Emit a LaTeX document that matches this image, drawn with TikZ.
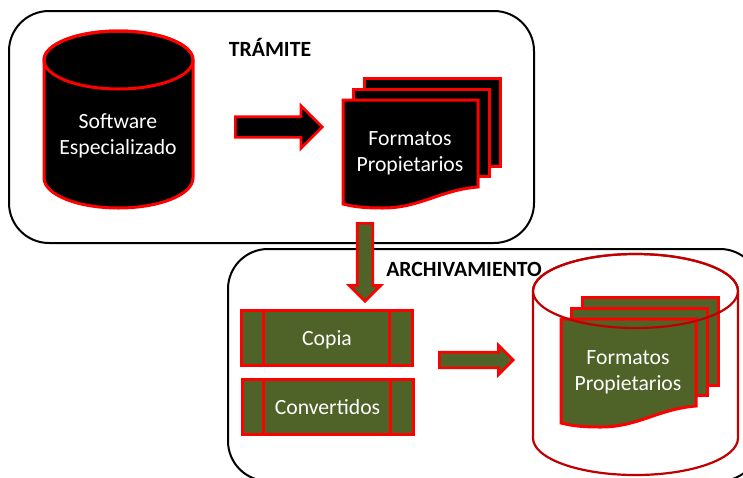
\documentclass[tikz,border=0pt]{standalone}
\usepackage{fontspec}
\setmainfont{Carlito}
\usetikzlibrary{shapes.arrows}
\definecolor{olivo}{HTML}{4F6228}
\definecolor{rojo}{HTML}{FF0000}
\definecolor{rojooscuro}{HTML}{C00000}
\tikzset{
  grupo/.style={draw=black,line width=2pt,rounded corners=40pt,fill=white},
  titulo/.style={font=\fontsize{21.7}{26}\selectfont\bfseries,text=black,inner sep=0pt},
  etiqueta/.style={font=\fontsize{21.7}{26}\selectfont,text=white,align=center,inner sep=0pt},
  hoja/.style={draw=rojo,line width=3pt,line join=miter},
  bloque/.style={single arrow,draw=rojo,line width=2.6pt,inner sep=0pt,
    single arrow head indent=0pt,anchor=tail},
  proceso/.style={draw=rojo,line width=3pt,fill=olivo,minimum width=171pt,minimum height=55pt,
    inner sep=0pt,text=white,font=\fontsize{21.7}{26}\selectfont,
    path picture={
      \draw[rojo,line width=3pt]
        ([xshift=21.5pt]path picture bounding box.north west) -- ([xshift=21.5pt]path picture bounding box.south west)
        ([xshift=-23pt]path picture bounding box.north east) -- ([xshift=-23pt]path picture bounding box.south east);
    }},
}
% pila de tres hojas: desplazamiento, relleno, nombre
\newcommand{\pilahojas}[4]{
  \begin{scope}[shift={(#1,#2)}]
    \draw[hoja,fill=#3] (364.5,78) rectangle (500,166);
    \draw[hoja,fill=#3] (353.5,89) rectangle (489,176);
    \draw[hoja,fill=#3] (343,100) -- (478,100) -- (478,187)
      .. controls (440,190) and (420,208) .. (383,208)
      .. controls (365,208) and (355,207) .. (343,204) -- cycle;
    \node[etiqueta] (#4) at (410,153.5) {Formatos\\Propietarios};
  \end{scope}
}
\begin{document}
\begin{tikzpicture}[x=1pt,y=-1pt]
  \useasboundingbox (0,0) rectangle (743,477);
  \clip (0,0) rectangle (743,477);
  \draw[grupo] (9,11) rectangle (534,243);
  \draw[grupo] (228,249) rectangle (760,481);
  \node[titulo] (tramite) at (270,47) {TRÁMITE};

  % cilindro negro
  \draw[draw=rojo,fill=black,line width=3pt] (44,60) -- (44,178)
    arc [start angle=180,end angle=0,x radius=74.5,y radius=30] -- (193,60)
    arc [start angle=0,end angle=-180,x radius=74.5,y radius=29];
  \draw[draw=rojo,line width=3pt] (118.5,60) ellipse [x radius=74.5,y radius=29];
  \node[etiqueta] (software) at (118,136) {Software\\Especializado};
  \node[bloque,fill=black,minimum width=40pt,minimum height=87pt,inner xsep=0pt,inner ysep=9pt,
    single arrow head extend=11pt] (flecha1) at (234,127) {};
  \pilahojas{0}{0}{black}{formatos}

  \node[proceso] (copia) at (327,338) {\raisebox{-2pt}[\height][\depth]{Copia}};
  \node[proceso] (convertidos) at (327.5,406.5) {\raisebox{-1pt}[\height][\depth]{Convertidos}};
  \node[bloque,fill=olivo,minimum width=28pt,minimum height=74pt,inner xsep=0pt,inner ysep=6.5pt,
    single arrow head extend=7pt] (flecha3) at (438,360) {};

  % cilindro abierto
  \draw[draw=rojooscuro,fill=white,line width=2.2pt] (533,291) -- (533,438)
    arc [start angle=180,end angle=0,x radius=102.5,y radius=37] -- (738,291)
    arc [start angle=0,end angle=-180,x radius=102.5,y radius=37];
  \pilahojas{218}{219}{olivo}{formatosdos}
  \draw[rojooscuro,line width=2.2pt] (635.5,291) ellipse [x radius=102.5,y radius=37];

  \node[bloque,fill=olivo,rotate=-90,minimum width=28pt,minimum height=78pt,inner xsep=0pt,inner ysep=6.5pt,
    single arrow head extend=8pt] (flecha2) at (365,222) {};
  \node[titulo] (archivamiento) at (464,269) {ARCHIVAMIENTO};
\end{tikzpicture}
\end{document}
